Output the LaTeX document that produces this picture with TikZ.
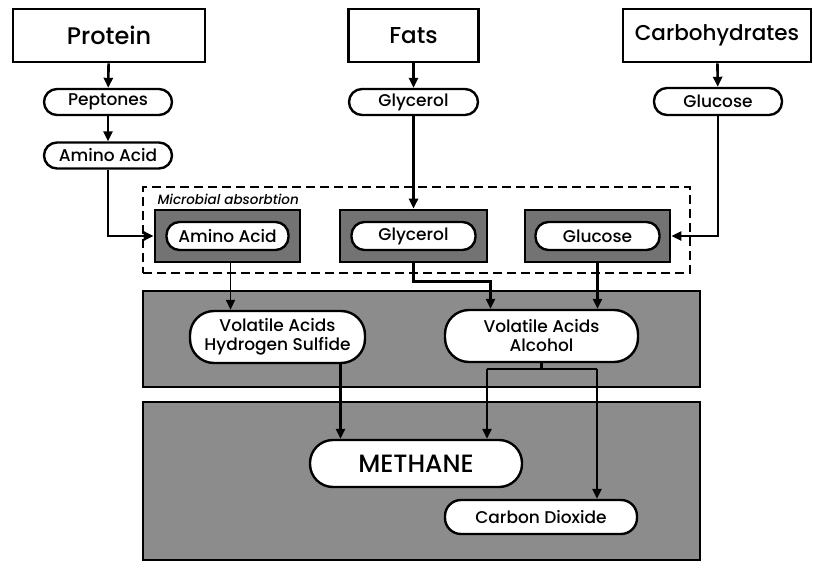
\documentclass[tikz,border=0pt]{standalone}
\usepackage{fontspec}
\setmainfont{Poppins Medium}[ItalicFont={Poppins Medium Italic}]
\usetikzlibrary{arrows.meta,calc}
\begin{document}
\begin{tikzpicture}[x=1pt,y=-1pt,
  topbox/.style={draw,line width=2.6pt,rectangle,inner sep=0pt,font=\fontsize{23}{27}\selectfont},
  pill/.style={draw,line width=2.4pt,fill=white,rounded corners=#1,inner sep=0pt,align=center,font=\fontsize{17}{19}\selectfont},
  pill/.default=13pt,
  shadebox/.style={draw,line width=2.6pt,fill=black!55,inner sep=0pt},
  panel/.style={draw,line width=2.6pt,fill=black!45,inner sep=0pt},
  arr/.style={line width=2.6pt,-{Triangle[length=10pt,width=9pt]}},
  ln/.style={line width=2.6pt},
  dashbox/.style={draw,line width=2.2pt,dash pattern=on 9pt off 5pt}]
\useasboundingbox (0,0) rectangle (813,567);
% panels
\node[panel,minimum width=557pt,minimum height=96pt] (panelA) at (421.5,339) {};
\node[panel,minimum width=557pt,minimum height=158pt] (panelB) at (421.5,481) {};
% dashed region
\node[dashbox,minimum width=547pt,minimum height=86pt] (absorb) at (416.5,230) {};
\node[anchor=west,font=\fontsize{13.5}{16}\itshape] (mlabel) at (154,199) {Microbial absorbtion};
% top boxes
\node[topbox,minimum width=192pt,minimum height=53pt,font=\fontsize{24}{28}\selectfont] (protein) at (109,35.5) {Protein};
\node[topbox,minimum width=130pt,minimum height=53pt] (fats) at (413.5,35.5) {Fats};
\node[topbox,minimum width=188pt,minimum height=53pt,font=\fontsize{21.5}{26}\selectfont] (carbo) at (717,35.5) {Carbohydrates};
% first pills
\node[pill,minimum width=128pt,minimum height=26pt] (pept) at (108,102) {Peptones};
\node[pill,minimum width=128pt,minimum height=26pt] (amino1) at (108,155.5) {Amino Acid};
\node[pill,minimum width=129pt,minimum height=26pt] (glyc1) at (413.5,102) {Glycerol};
\node[pill,minimum width=128pt,minimum height=27pt] (gluc1) at (718,101.5) {Glucose};
% shaded boxes
\node[shadebox,minimum width=145pt,minimum height=52pt] (aabox) at (227.5,236) {};
\node[shadebox,minimum width=147pt,minimum height=52pt] (glbox) at (413.5,236) {};
\node[shadebox,minimum width=145pt,minimum height=52pt] (gcbox) at (597.5,236) {};
\node[pill,minimum width=122pt,minimum height=28pt] (amino2) at (aabox) {Amino Acid};
\node[pill,minimum width=124pt,minimum height=28pt] (glyc2) at (glbox) {Glycerol};
\node[pill,minimum width=124pt,minimum height=28pt] (gluc2) at (gcbox) {Glucose};
% middle pills
\node[pill=24pt,minimum width=175pt,minimum height=52pt] (vahs) at (277.5,337) {Volatile Acids\\Hydrogen Sulfide};
\node[pill=24pt,minimum width=193pt,minimum height=52pt] (vaal) at (541.5,336) {Volatile Acids\\Alcohol};
% bottom pills
\node[pill=23pt,minimum width=212pt,minimum height=47pt,font=\fontsize{25}{29}\selectfont] (meth) at (416,463.5) {METHANE};
\node[pill=16pt,minimum width=192pt,minimum height=34pt] (co2) at (541,517) {Carbon Dioxide};
% connectors
\draw[arr] (protein) -- (pept);
\draw[arr] (pept) -- (amino1);
\draw[arr] (fats) -- (glyc1);
\draw[arr] (carbo) -- (gluc1);
\draw[arr] (amino1.south) |- (aabox.west);
\draw[arr] (glyc1.south) -- (glbox.north);
\draw[arr] (gluc1.south) |- (gcbox.east);
\coordinate (aaout) at ($(aabox.south)+(3,0)$);
\draw[arr,line width=1.6pt] (aaout) -- (aaout |- vahs.north);
\coordinate (glbend) at ($(glbox.south)+(0,18)$);
\coordinate (glin) at ($(vaal.north)+(-51,0)$);
\draw[arr] (glbox.south) -- (glbend) -| (glin);
\draw[arr] (gcbox.south) -- (gcbox.south |- vaal.north);
\coordinate (hsout) at ($(vahs.south)+(63,0)$);
\draw[arr] (hsout) -- (hsout |- meth.north);
\coordinate (splitL) at (487,369);
\coordinate (splitR) at (597,369);
\draw[ln] (vaal.south) -- (vaal.south |- splitL);
\draw[ln] (splitL) -- (splitR);
\draw[arr] (splitL) -- (splitL |- meth.north);
\draw[arr] (splitR) -- (splitR |- co2.north);
\end{tikzpicture}
\end{document}
